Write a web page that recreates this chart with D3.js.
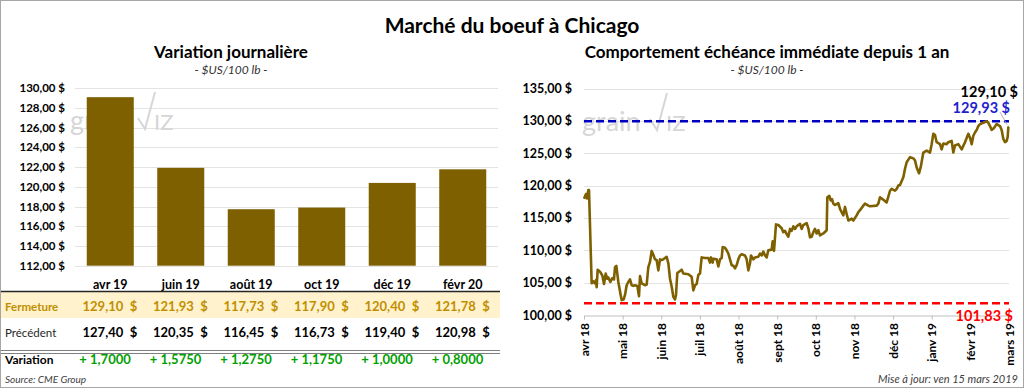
<!DOCTYPE html>
<html><head><meta charset="utf-8">
<script src="https://cdn.jsdelivr.net/npm/d3@7"></script>
<style>
html,body{margin:0;padding:0;background:#fff;}
svg{display:block;font-family:Lato,"Open Sans",sans-serif;}
</style></head>
<body>
<svg id="c" width="1024" height="388"></svg>
<script>
// ---------- DATA ----------
const title = "Marché du boeuf à Chicago";
const leftTitle = "Variation journalière";
const unitLabel = "- $US/100 lb -";
const rightTitle = "Comportement échéance immédiate depuis 1 an";
const contracts = ["avr 19","juin 19","août 19","oct 19","déc 19","févr 20"];
const closes = [129.10,121.93,117.73,117.90,120.40,121.78];
const previous = [127.40,120.35,116.45,116.73,119.40,120.98];
const changes = [1.7,1.575,1.275,1.175,1.0,0.8];
const leftTicks = [112,114,116,118,120,122,124,126,128,130];
const rightTicks = [100,105,110,115,120,125,130,135];
const months = ["avr 18","mai 18","juin 18","juil 18","août 18","sept 18","oct 18","nov 18","déc 18","janv 19","févr 19","mars 19"];
const yearHigh = 129.93, yearLow = 101.83, lastClose = 129.10;
// front-month series: [trading session index, price]
const sessions = [0,1.2,1.8,2.6,3,4.6,5.6,6.6,7.2,7.6,8.2,9.6,11,12,13,14,14.6,15.8,17,18,18.6,19.4,20.6,22,22.6,23.8,24.6,25.6,26.6,27.6,28.6,29.6,30.6,32,33,33.6,34.6,36.6,37.6,38.6,39.6,40.6,41.6,42.6,43.6,44.6,45.6,46.6,47.6,48.6,49.6,50.6,51.6,52.6,53.6,54.6,55.2,56,57.6,58.6,59.6,62.6,64.6,65.6,66.6,67.6,68.6,69.6,70.6,72.6,74.6,75.6,76.2,77.2,77.6,79.6,80.6,81.6,82.6,83.2,84.6,85.6,86.6,87.6,88.6,89.6,90.6,91.6,92.6,93.6,94.6,96.6,97.6,98.6,99.6,100.2,101.6,102.6,104.6,105.6,106.6,107.6,108.6,109.6,110.6,112.6,113.2,114,115.2,116.6,118.6,119.6,120.6,121.6,122.6,123.6,124.6,125.6,126.6,127.6,129.6,130.6,131.6,133.6,134.6,135.6,136.6,137.6,138.6,139.6,140.6,141.6,143.6,145.6,146,147.2,148,148.8,149.6,150.6,152.6,153.6,154.6,155.6,156.6,157.6,158.6,160.6,161.6,163.6,164.6,165.6,167.6,168.6,170.6,171.6,175.6,176.6,177.6,179.6,181.6,182.6,183.6,184.6,186.6,187.6,188.6,189.6,191.6,192.6,193.6,195.6,197.6,198.6,199.6,201,202,203.6,205.6,207.6,208.6,209.6,210.6,211.6,213.6,214.6,215.6,217.6,218.6,220.6,221.6,222.6,224.6,226.6,228.6,230.6,231.6,232.6,233.6,234.6,235.6,236.6,237.6,239.6,241.6,242.6,243.6,244.6,246,247.6,249.6,250.6,251.6,252.6,253.6,254.2,254.6,255];
const prices = [117.95,118.7,118.0,119.3,119.3,104.9,105.2,104.9,105.4,104.3,107.0,106.7,106.1,104.8,106.4,105.6,105.8,105.1,105.7,105.5,107.4,107.6,105.1,103.1,102.3,102.4,103.1,104.6,105.1,105.5,104.6,104.5,104.6,104.5,102.9,106.0,104.9,104.6,104.7,107.4,108.2,109.9,109.3,108.6,108.5,106.9,108.6,108.5,108.6,108.8,109.0,108.0,105.6,104.4,102.8,102.4,103.1,106.5,106.8,107.0,106.4,106.3,105.9,103.8,104.6,104.8,106.2,106.4,108.9,108.8,108.8,108.1,108.9,108.1,108.7,108.6,107.5,108.6,108.8,110.5,110.4,110.0,109.5,108.6,107.7,107.6,107.2,107.7,108.6,109.2,109.4,109.2,108.6,106.9,108.0,109.2,108.6,108.9,109.0,109.5,109.2,109.8,109.2,108.9,110.0,110.1,111.4,109.9,114.0,113.9,113.4,112.8,113.0,112.5,112.1,113.3,113.0,113.7,113.3,113.7,114.1,113.3,113.9,114.2,113.4,112.0,112.1,112.8,113.3,112.6,113.1,112.3,112.6,113.1,118.2,118.4,117.7,117.9,117.2,117.0,117.3,116.4,115.9,115.4,116.7,115.6,114.6,114.9,114.6,115.4,115.9,116.2,116.9,117.2,116.9,116.8,116.9,117.2,118.2,117.8,117.4,118.3,119.2,119.5,119.2,119.5,120.0,120.1,121.3,122.6,123.6,124.4,124.2,123.9,122.8,121.9,122.8,125.1,125.4,125.1,126.4,128.0,127.8,126.7,126.4,125.6,126.5,126.4,126.7,126.9,125.1,126.2,126.4,125.6,126.7,128.0,127.4,126.4,127.7,128.2,128.6,129.2,129.5,129.7,129.93,129.7,129.2,128.6,128.9,129.5,129.2,128.6,127.2,126.7,126.9,127.5,129.0,129.1];

// ---------- SETUP ----------
const svg = d3.select("#c");
const fr = d3.formatLocale({decimal:",",thousands:"\u00a0",grouping:[3],currency:["","\u00a0$"]});
const fmtMoney = fr.format("$,.2f");
const fmtNum = fr.format(",.2f");
const fmtChg = fr.format(",.4f");
const gold = "#7F6000";

svg.append("rect").attr("x",0.5).attr("y",0.5).attr("width",1023).attr("height",387)
  .attr("fill","#fff").attr("stroke","#a6a6a6");

svg.append("text").attr("x",512).attr("y",33).attr("text-anchor","middle")
  .attr("font-size",21).attr("font-weight","bold").attr("fill","#000").text(title);

function watermark(g,x,y){
  const w = g.append("g").attr("fill","none").attr("opacity",1);
  w.append("text").attr("x",x).attr("y",y).attr("font-size",27).attr("fill","#d6d6d6")
    .attr("font-family","Lato").text("grain");
  w.append("path").attr("d",`M${x+68},${y-12} L${x+75},${y-1} L${x+85},${y-38}`)
    .attr("stroke","#d6d6d6").attr("stroke-width",2).attr("fill","none");
  w.append("text").attr("x",x+84).attr("y",y).attr("font-size",22).attr("fill","#d6d6d6")
    .attr("font-family","Lato").text("IZ");
}

// ---------- LEFT CHART ----------
const L = svg.append("g");
L.append("text").attr("x",231).attr("y",58).attr("text-anchor","middle")
  .attr("font-size",17).attr("font-weight","bold").text(leftTitle);
L.append("text").attr("x",231).attr("y",74).attr("text-anchor","middle")
  .attr("font-size",12).attr("font-style","italic").attr("fill","#333").text(unitLabel);

const xL = d3.scaleBand().domain(contracts).range([75,498]).paddingInner(0.333).paddingOuter(0.1667);
const yL = d3.scaleLinear().domain([112,130]).range([265.7,88.3]);

L.append("g").selectAll("line").data(leftTicks).join("line")
  .attr("x1",75).attr("x2",498).attr("y1",d=>Math.round(yL(d))+0.5).attr("y2",d=>Math.round(yL(d))+0.5)
  .attr("stroke","#e3e3e3").attr("stroke-width",1);
L.append("g").selectAll("text").data(leftTicks).join("text")
  .attr("x",65).attr("y",d=>yL(d)+4).attr("text-anchor","end")
  .attr("font-size",11.5).attr("font-weight","bold").text(d=>fmtMoney(d));

watermark(L,70,130);

L.append("g").selectAll("rect").data(closes).join("rect")
  .attr("x",(d,i)=>xL(contracts[i])).attr("width",xL.bandwidth())
  .attr("y",d=>yL(d)).attr("height",d=>yL(112)-yL(d)).attr("fill",gold);

L.append("g").selectAll("text").data(contracts).join("text")
  .attr("x",d=>xL(d)+xL.bandwidth()/2).attr("y",289).attr("text-anchor","middle")
  .attr("font-size",12.5).attr("font-weight","bold").text(d=>d);

// table
L.append("rect").attr("x",1).attr("y",292).attr("width",499).attr("height",26).attr("fill","#FFF2CC");
L.append("line").attr("x1",1).attr("x2",500).attr("y1",291.5).attr("y2",291.5).attr("stroke","#262626").attr("stroke-width",1.6);
L.append("line").attr("x1",1).attr("x2",500).attr("y1",350.5).attr("y2",350.5).attr("stroke","#7f7f7f").attr("stroke-width",1);
L.append("line").attr("x1",1).attr("x2",500).attr("y1",353.5).attr("y2",353.5).attr("stroke","#7f7f7f").attr("stroke-width",1);

L.append("text").attr("x",5).attr("y",311).attr("font-size",11.5).attr("font-weight","bold").attr("fill","#BF8F00").text("Fermeture");
L.append("text").attr("x",5).attr("y",337).attr("font-size",11.5).attr("fill","#262626").text("Précédent");
L.append("text").attr("x",5).attr("y",364).attr("font-size",12).attr("font-weight","bold").attr("fill","#000").text("Variation");

function moneyRow(vals,y,color){
  const g = L.append("g").attr("font-size",13).attr("font-weight","bold").attr("fill",color);
  g.selectAll("text.n").data(vals).join("text").attr("class","n")
    .attr("x",(d,i)=>xL(contracts[i])+xL.bandwidth()-10.5).attr("y",y).attr("text-anchor","end").text(d=>fmtNum(d));
  g.selectAll("text.s").data(vals).join("text").attr("class","s")
    .attr("x",(d,i)=>xL(contracts[i])+xL.bandwidth()+3.5).attr("y",y).attr("text-anchor","end").text("$");
}
moneyRow(closes,311,"#BF8F00");
moneyRow(previous,337,"#000");
L.append("g").selectAll("text").data(changes).join("text")
  .attr("x",(d,i)=>xL(contracts[i])+xL.bandwidth()-3).attr("y",364).attr("text-anchor","end")
  .attr("font-size",13).attr("font-weight","bold").attr("fill","#00A000").text(d=>"+ "+fmtChg(d));

L.append("text").attr("x",5).attr("y",383).attr("font-size",10).attr("font-style","italic").attr("fill","#404040").text("Source: CME Group");

// ---------- RIGHT CHART ----------
const R = svg.append("g");
R.append("text").attr("x",767).attr("y",58).attr("text-anchor","middle")
  .attr("font-size",17).attr("font-weight","bold").text(rightTitle);
R.append("text").attr("x",767).attr("y",74).attr("text-anchor","middle")
  .attr("font-size",12).attr("font-style","italic").attr("fill","#333").text(unitLabel);

const xR = d3.scaleLinear().domain([0,255]).range([584,1009]);
const xM = d3.scalePoint().domain(months).range([584,1009]);
const yR = d3.scaleLinear().domain([100,135]).range([315,88.5]);

R.append("g").selectAll("line").data(rightTicks.slice(1)).join("line")
  .attr("x1",584).attr("x2",1009).attr("y1",d=>Math.round(yR(d))+0.5).attr("y2",d=>Math.round(yR(d))+0.5)
  .attr("stroke","#e3e3e3");
R.append("g").selectAll("text").data(rightTicks).join("text")
  .attr("x",572).attr("y",d=>yR(d)+4.5).attr("text-anchor","end")
  .attr("font-size",12.5).attr("font-weight","bold").text(d=>fmtMoney(d));

// x axis
const xa = R.append("g").attr("transform",`translate(0,${Math.round(yR(100))+0.5})`)
  .call(d3.axisBottom(xM).tickSize(4).tickSizeOuter(0).tickFormat(""));
xa.select(".domain").attr("stroke","#bfbfbf");
xa.selectAll(".tick line").attr("stroke","#bfbfbf");
R.append("g").selectAll("text").data(months).join("text")
  .attr("transform",d=>`translate(${xM(d)+4.5},323) rotate(-90)`).attr("text-anchor","end")
  .attr("font-size",12).attr("font-weight","bold").text(d=>d);

watermark(R,582,131);

R.append("line").attr("x1",584).attr("x2",1009).attr("y1",yR(yearHigh)).attr("y2",yR(yearHigh))
  .attr("stroke","#0000C0").attr("stroke-width",2.5).attr("stroke-dasharray","8,4");
R.append("line").attr("x1",584).attr("x2",1009).attr("y1",yR(yearLow)).attr("y2",yR(yearLow))
  .attr("stroke","#FF0000").attr("stroke-width",2.5).attr("stroke-dasharray","8,4");

const series = sessions.map((s,i)=>[s,prices[i]]);
R.append("path").datum(series).attr("fill","none").attr("stroke",gold).attr("stroke-width",2.6)
  .attr("stroke-linejoin","round")
  .attr("d",d3.line().x(d=>xR(d[0])).y(d=>yR(d[1])));

// labels
R.append("line").attr("x1",1000).attr("y1",112).attr("x2",xR(255)-2).attr("y2",yR(lastClose)-2)
  .attr("stroke","#a6a6a6").attr("stroke-width",0.8);
R.append("text").attr("x",1018).attr("y",97).attr("text-anchor","end").attr("font-size",14.5)
  .attr("font-weight","bold").attr("fill","#000").text(fmtMoney(lastClose));
R.append("text").attr("x",1010).attr("y",113).attr("text-anchor","end").attr("font-size",14.5)
  .attr("font-weight","bold").attr("fill","#2222CC").text(fmtMoney(yearHigh));
R.append("text").attr("x",1013).attr("y",321).attr("text-anchor","end").attr("font-size",14.5)
  .attr("font-weight","bold").attr("fill","#FF0000").text(fmtMoney(yearLow));

R.append("text").attr("x",1018).attr("y",383).attr("text-anchor","end").attr("font-size",11)
  .attr("font-style","italic").attr("fill","#404040").text("Mise à jour: ven 15 mars 2019");
</script>
</body></html>
